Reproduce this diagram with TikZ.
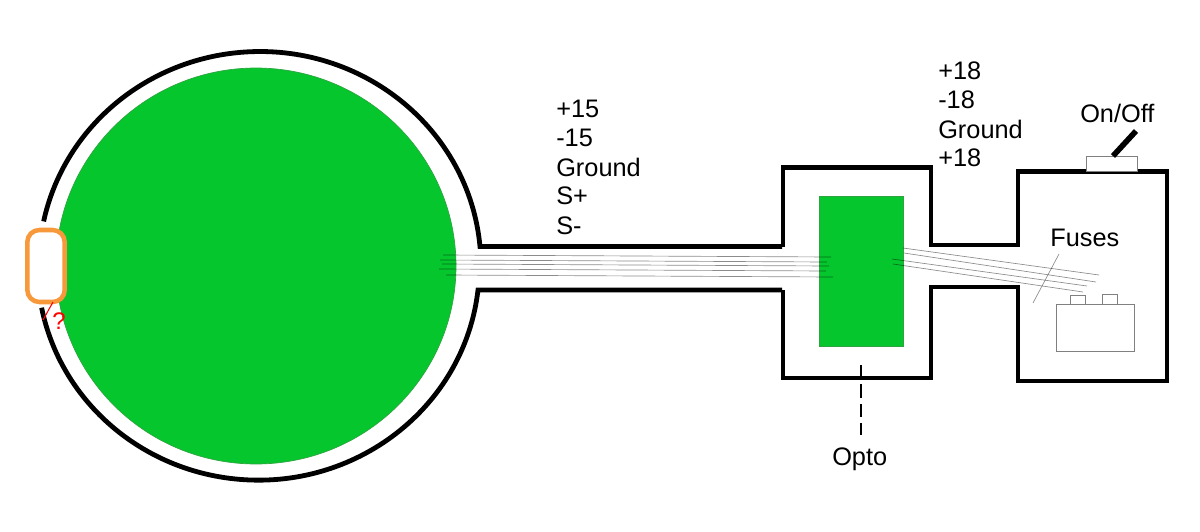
\documentclass[tikz,border=0pt]{standalone}
\usepackage{fontspec}
\setmainfont{Liberation Sans}
\definecolor{gfill}{HTML}{05C62D}
\definecolor{gedge}{HTML}{2FA33F}
\definecolor{orng}{HTML}{F7983A}
\tikzset{
  wall/.style={line width=3.6pt,black,line join=miter},
  thin wire/.style={line width=0.5pt,black,opacity=0.45},
  thin box/.style={draw=black!50,line width=0.5pt,fill=white},
  lbl/.style={inner sep=0pt,anchor=west,font=\fontsize{19}{23}\selectfont},
}
\begin{document}
\begin{tikzpicture}[x=0.75pt,y=-0.75pt]
\useasboundingbox (0,0) rectangle (1200,532);
% green bodies
\fill[gfill,draw=gedge,line width=0.5pt] (256,266) ellipse[x radius=200,y radius=198];
\node[draw=gedge,fill=gfill,line width=0.5pt,minimum width=63pt,minimum height=112.5pt,inner sep=0pt] (opto) at (861,271) {};
% walls
\draw[wall] (782,246.5) -- (480,246.5) arc[x radius=221,y radius=214,start angle=-5.1,end angle=-168.1];
\draw[wall] (782,290) -- (478,290) arc[x radius=221,y radius=214,start angle=6.4,end angle=168.8];
\draw[wall] (783,246.5) -- (783,167.5) -- (931,167.5) -- (931,245) -- (1018,245) -- (1018,171.5) -- (1167,171.5) -- (1167,381) -- (1018,381) -- (1018,287) -- (931,287) -- (931,378) -- (783,378) -- (783,290);
% wires left
\draw[thin wire] (443,255) -- (831,257);
\draw[thin wire] (440,260) -- (827,262);
\draw[thin wire] (442,264) -- (829,266);
\draw[thin wire] (439,269) -- (826,271);
\draw[thin wire] (446,275) -- (833,277);
% wires right
\draw[thin wire] (903,248) -- (1099,275);
\draw[thin wire] (904,253) -- (1096,282);
\draw[thin wire] (892,259) -- (1087,286);
\draw[thin wire] (893,264) -- (1083,292);
\draw[thin wire] (1059,254) -- (1033,303);
% battery
\node[thin box,minimum width=58.5pt,minimum height=35pt,inner sep=0pt] (batt) at (1095,327.5) {};
\node[thin box,minimum width=11pt,minimum height=7pt,inner sep=0pt] (t1) at (1077.5,299.5) {};
\node[thin box,minimum width=11pt,minimum height=7.5pt,inner sep=0pt] (t2) at (1109.5,299) {};
% switch
\node[thin box,minimum width=38pt,minimum height=11pt,inner sep=0pt] (sw) at (1111.5,163.5) {};
\coordinate (levera) at (1113,156);
\coordinate (leverb) at (1136,131);
\draw[line width=4.2pt,black] (levera) -- (leverb);
% dashed
\draw[line width=1.1pt,black,dash pattern=on 10pt off 4.6pt] (861,365) -- (861,435);
% orange port
\node[draw=orng,fill=white,line width=3.4pt,rounded corners=9pt,minimum width=28pt,minimum height=54pt,inner sep=0pt] (port) at (46,266) {};
\coordinate (qa) at (53,302);
\coordinate (qb) at (43,320);
\draw[red,line width=0.8pt] (qa) -- (qb);
\node[red,inner sep=0pt,font=\fontsize{18}{18}\selectfont] (q) at (59,321) {?};
% labels
\node[lbl] (a1) at (556,109) {+15};
\node[lbl] (a2) at (556,138) {-15};
\node[lbl] (a3) at (556,167) {Ground};
\node[lbl] (a4) at (556,196) {S+};
\node[lbl] (a5) at (556,226) {S-};
\node[lbl] (b1) at (938,71) {+18};
\node[lbl] (b2) at (938,100) {-18};
\node[lbl] (b3) at (938,129) {Ground};
\node[lbl] (b4) at (938,158) {+18};
\node[lbl] (c1) at (1080,113) {On/Off};
\node[lbl] (c2) at (1050,238) {Fuses};
\node[lbl] (c3) at (832,459) {Opto};
\end{tikzpicture}
\end{document}
